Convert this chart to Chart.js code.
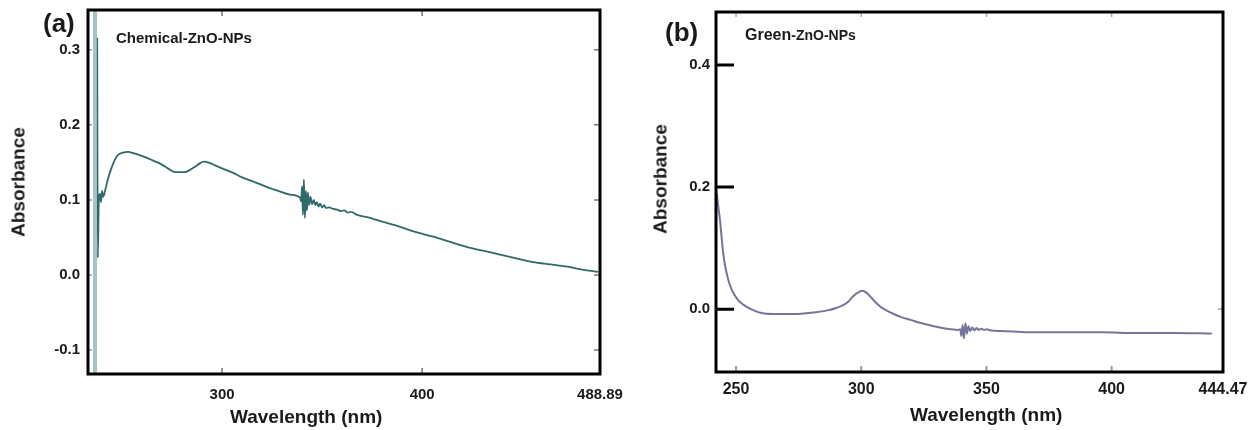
<!DOCTYPE html>
<html>
<head>
    <title>UV-Vis spectra of ZnO nanoparticles</title>
    <script src="https://cdn.jsdelivr.net/npm/chart.js"></script>
    <style>
        body {
            margin: 0;
            width: 1252px;
            height: 430px;
            background: #ffffff;
            position: relative;
            overflow: hidden;
            font-family: "Liberation Sans", Arial, sans-serif;
            font-weight: bold;
            color: #1a1a1a;
        }
        canvas {
            position: absolute;
            top: 0;
        }
        #chartA { left: 0; }
        #chartB { left: 630px; }
        .lbl {
            position: absolute;
            line-height: 1;
            white-space: nowrap;
        }
        .panel { font-size: 26px; }
        .inset { font-size: 15px; }
        .xtitle { font-size: 19px; }
        .ytitle {
            font-size: 19px;
            transform: translate(-50%, -50%) rotate(-90deg);
        }
    </style>
</head>
<body>
    <canvas id="chartA" width="630" height="430"></canvas>
    <canvas id="chartB" width="622" height="430"></canvas>

    <div class="lbl panel" style="left:43px; top:10px;">(a)</div>
    <div class="lbl panel" style="left:665px; top:19px;">(b)</div>
    <div class="lbl inset" style="left:116px; top:30px;">Chemical-ZnO-NPs</div>
    <div class="lbl inset" style="left:745px; top:27px;"><span style="font-size:16px">Green</span><span style="font-size:14px">-ZnO-NPs</span></div>
    <div class="lbl xtitle" style="left:230px; top:407px;">Wavelength (nm)</div>
    <div class="lbl xtitle" style="left:910px; top:405px;">Wavelength (nm)</div>
    <div class="lbl ytitle" style="left:18px; top:182px;">Absorbance</div>
    <div class="lbl ytitle" style="left:660px; top:179px;">Absorbance</div>

    <script>
        // (a) chemical ZnO-NPs
        const chemWl = [237.6, 237.9, 238.4, 239.0, 239.5, 240.0, 240.6, 241.5, 243.0, 244.8,
            246.5, 248.0, 250.5, 253.0, 256.0, 258.5, 261.5, 265.0, 270.0, 273.5,
            276.5, 279.0, 281.5, 284.0, 286.5, 289.0, 291.0, 294.0, 296.5, 300.0,
            305.5, 310.0, 316.0, 322.5, 328.0, 334.0, 339.0, 339.5, 340.0, 340.4,
            340.9, 341.4, 341.9, 342.4, 342.9, 343.5, 344.2, 345.0, 345.8, 346.6,
            347.4, 348.2, 349.0, 350.0, 351.0, 352.0, 353.5, 355.5, 357.5, 359.5,
            361.0, 363.0, 364.5, 367.5, 372.5, 380.0, 389.0, 397.0, 405.5, 414.0,
            422.5, 431.0, 439.0, 447.0, 455.5, 464.0, 472.5, 480.0, 488.0];
        const chemAbs = [0.316, 0.023, 0.098, 0.108, 0.097, 0.112, 0.104, 0.112, 0.128, 0.143,
            0.154, 0.160, 0.163, 0.164, 0.162, 0.160, 0.157, 0.153, 0.147, 0.141,
            0.137, 0.137, 0.137, 0.140, 0.144, 0.149, 0.151, 0.149, 0.146, 0.142,
            0.136, 0.130, 0.124, 0.117, 0.112, 0.107, 0.103, 0.098, 0.118, 0.080,
            0.127, 0.076, 0.112, 0.086, 0.110, 0.093, 0.104, 0.094, 0.100, 0.093,
            0.097, 0.091, 0.095, 0.090, 0.093, 0.089, 0.090, 0.088, 0.087, 0.085,
            0.086, 0.083, 0.084, 0.080, 0.077, 0.071, 0.064, 0.057, 0.051, 0.044,
            0.037, 0.032, 0.027, 0.022, 0.017, 0.014, 0.011, 0.007, 0.004];
        // lamp-change artefact at the left edge of (a)
        const chemSpikeWl = [236.5, 236.5];
        const chemSpikeAbs = [-0.2, 0.4];
        const chemXTicks = [300, 400, 488.89];
        const chemYTicks = [-0.1, 0.0, 0.1, 0.2, 0.3];

        // (b) green ZnO-NPs
        const greenWl = [242.3, 243.0, 243.6, 244.3, 244.9, 245.6, 246.3, 247.5, 249.0, 251.0,
            253.0, 256.0, 259.7, 265.0, 273.0, 280.0, 286.5, 290.0, 293.0, 295.0,
            297.0, 299.0, 300.5, 302.0, 304.0, 306.0, 308.0, 311.0, 313.0, 316.0,
            320.0, 325.0, 329.0, 334.0, 338.6, 339.5, 340.0, 340.5, 341.0, 341.6,
            342.2, 342.8, 343.5, 344.3, 345.2, 346.0, 347.0, 348.0, 349.0, 350.0,
            352.0, 356.0, 362.0, 369.0, 380.0, 396.0, 410.0, 425.0, 440.0];
        const greenAbs = [0.190, 0.165, 0.146, 0.115, 0.091, 0.072, 0.058, 0.040, 0.026, 0.014,
            0.007, 0.000, -0.006, -0.008, -0.008, -0.006, -0.002, 0.002, 0.007, 0.013,
            0.022, 0.028, 0.030, 0.027, 0.019, 0.010, 0.003, -0.004, -0.008, -0.013,
            -0.018, -0.024, -0.028, -0.032, -0.034, -0.033, -0.044, -0.026, -0.048, -0.023,
            -0.040, -0.028, -0.036, -0.030, -0.035, -0.031, -0.034, -0.032, -0.034, -0.033,
            -0.035, -0.036, -0.037, -0.038, -0.038, -0.038, -0.039, -0.039, -0.040];
        const greenXTicks = [250, 300, 350, 400, 444.47];
        const greenYTicks = [0.0, 0.2, 0.4];

        const FONT = "'Liberation Sans', Arial, sans-serif";

        function points(xs, ys) {
            return xs.map((x, i) => ({ x: x, y: ys[i] }));
        }

        // frame round the plot area and inward tick marks
        const framePlugin = {
            id: 'frame',
            afterDraw(chart, args, opts) {
                const ctx = chart.ctx;
                const a = chart.chartArea;
                const sx = chart.scales.x;
                const sy = chart.scales.y;
                ctx.save();
                opts.marks.forEach(m => {
                    ctx.strokeStyle = m.color;
                    ctx.lineWidth = m.width;
                    ctx.beginPath();
                    m.values.forEach(v => {
                        if (m.side === 'bottom' || m.side === 'top') {
                            const x = sx.getPixelForValue(v);
                            const y0 = m.side === 'bottom' ? a.bottom : a.top;
                            const d = m.side === 'bottom' ? -m.len : m.len;
                            ctx.moveTo(x, y0);
                            ctx.lineTo(x, y0 + d);
                        } else {
                            const y = sy.getPixelForValue(v);
                            const x0 = m.side === 'left' ? a.left : a.right;
                            const d = m.side === 'left' ? m.len : -m.len;
                            ctx.moveTo(x0, y);
                            ctx.lineTo(x0 + d, y);
                        }
                    });
                    ctx.stroke();
                });
                ctx.strokeStyle = '#000';
                ctx.lineWidth = opts.borderWidth;
                ctx.strokeRect(a.left, a.top, a.right - a.left, a.bottom - a.top);
                ctx.restore();
            }
        };

        function makeChart(id, cfg) {
            return new Chart(document.getElementById(id), {
                type: 'scatter',
                data: { datasets: cfg.datasets },
                options: {
                    responsive: false,
                    animation: false,
                    devicePixelRatio: 1,
                    layout: { padding: { left: 0, top: cfg.top, right: cfg.right, bottom: 0 } },
                    plugins: {
                        legend: { display: false },
                        tooltip: { enabled: false },
                        frame: { marks: cfg.marks, borderWidth: 3 }
                    },
                    scales: {
                        x: {
                            type: 'linear',
                            min: cfg.xMin,
                            max: cfg.xMax,
                            afterBuildTicks: s => { s.ticks = cfg.xTicks.map(v => ({ value: v })); },
                            afterFit: s => {
                                s.height = cfg.xAxisH;
                                s.paddingLeft = 0;
                                s.paddingRight = 0;
                            },
                            grid: { display: false, drawTicks: false },
                            border: { display: false },
                            ticks: {
                                autoSkip: false,
                                maxRotation: 0,
                                padding: cfg.xPad,
                                color: '#1a1a1a',
                                font: { family: FONT, weight: 'bold', size: cfg.xFont },
                                callback: v => String(v)
                            }
                        },
                        y: {
                            type: 'linear',
                            min: cfg.yMin,
                            max: cfg.yMax,
                            afterBuildTicks: s => { s.ticks = cfg.yTicks.map(v => ({ value: v })); },
                            afterFit: s => {
                                s.width = cfg.yAxisW;
                                s.paddingTop = 0;
                                s.paddingBottom = 0;
                            },
                            grid: { display: false, drawTicks: false },
                            border: { display: false },
                            ticks: {
                                autoSkip: false,
                                padding: cfg.yPad,
                                color: '#1a1a1a',
                                font: { family: FONT, weight: 'bold', size: cfg.yFont },
                                callback: v => v.toFixed(1)
                            }
                        }
                    }
                },
                plugins: [framePlugin]
            });
        }

        makeChart('chartA', {
            datasets: [
                {
                    data: points(chemSpikeWl, chemSpikeAbs),
                    showLine: true,
                    borderColor: 'rgba(150, 184, 190, 0.85)',
                    borderWidth: 4,
                    pointRadius: 0
                },
                {
                    data: points(chemWl, chemAbs),
                    showLine: true,
                    borderColor: '#2f6a68',
                    borderWidth: 1.8,
                    pointRadius: 0,
                    cubicInterpolationMode: 'monotone'
                }
            ],
            top: 10, right: 30, xAxisH: 56, yAxisW: 88,
            xMin: 233, xMax: 488.89, yMin: -0.132, yMax: 0.353,
            xTicks: chemXTicks, yTicks: chemYTicks,
            xPad: 12, yPad: 8, xFont: 15, yFont: 15,
            marks: [
                { side: 'bottom', values: [300, 400], len: 6, width: 1.5, color: '#777' },
                { side: 'top', values: [300, 400], len: 6, width: 1.5, color: '#777' },
                { side: 'left', values: chemYTicks, len: 4, width: 1.5, color: '#999' },
                { side: 'right', values: chemYTicks, len: 6, width: 1.5, color: '#777' }
            ]
        });

        makeChart('chartB', {
            datasets: [
                {
                    data: points(greenWl, greenAbs),
                    showLine: true,
                    borderColor: '#77749c',
                    borderWidth: 2,
                    pointRadius: 0,
                    cubicInterpolationMode: 'monotone'
                }
            ],
            top: 12, right: 29, xAxisH: 58, yAxisW: 86,
            xMin: 242, xMax: 444.47, yMin: -0.103, yMax: 0.487,
            xTicks: greenXTicks, yTicks: greenYTicks,
            xPad: 8, yPad: 6, xFont: 16, yFont: 15,
            marks: [
                { side: 'left', values: greenYTicks, len: 18, width: 3, color: '#000' },
                { side: 'bottom', values: [250, 300, 350, 400], len: 6, width: 2, color: '#999' },
                { side: 'top', values: [250, 300, 350, 400], len: 5, width: 1.5, color: '#aaa' },
                { side: 'right', values: [0.0], len: 5, width: 1.5, color: '#999' }
            ]
        });
    </script>
</body>
</html>
